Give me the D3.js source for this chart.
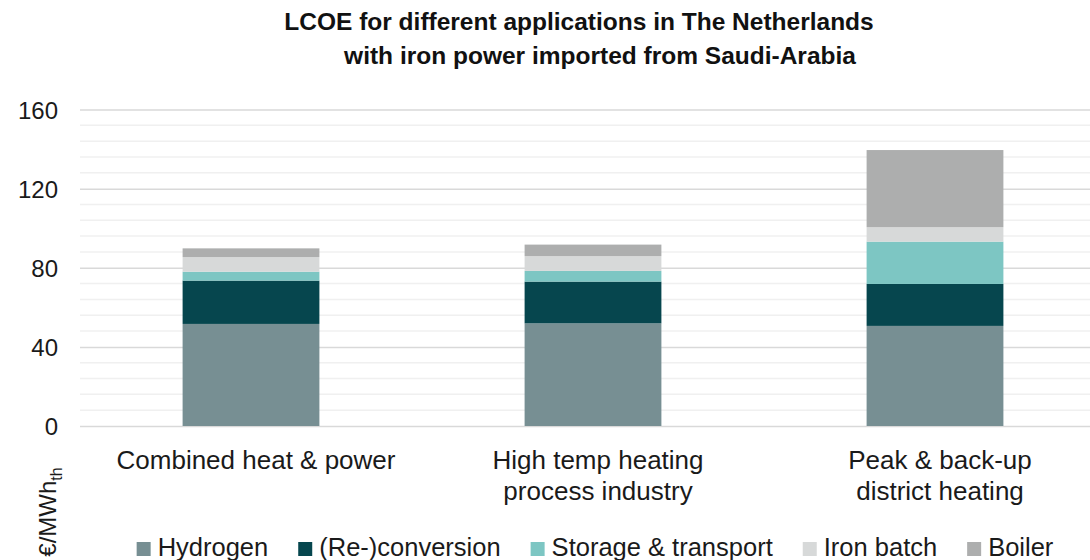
<!DOCTYPE html>
<html>
<head>
<meta charset="utf-8">
<script src="https://cdn.jsdelivr.net/npm/d3@7"></script>
<style>
  html, body { margin: 0; padding: 0; background: #fff; }
  svg { display: block; font-family: "Liberation Sans", Arial, sans-serif; }
</style>
</head>
<body>
<div id="chart"></div>
<script>
// chart data
const categories = [
  ["Combined heat & power"],
  ["High temp heating", "process industry"],
  ["Peak & back-up", "district heating"]
];
const seriesNames = ["Hydrogen", "(Re-)conversion", "Storage & transport", "Iron batch", "Boiler"];
const hydrogen = [51.6, 51.9, 50.6];
const reconversion = [21.9, 21.1, 21.2];
const storageTransport = [4.5, 5.4, 21.4];
const ironBatch = [7.4, 7.5, 7.3];
const boiler = [4.4, 5.8, 39.0];
const yTicks = [0, 40, 80, 120, 160];
const titleLines = ["LCOE for different applications in The Netherlands", "with iron power imported from Saudi-Arabia"];
const colors = ["#778f93", "#06464e", "#7dc6c3", "#d7d9d9", "#adaeae"];

const width = 1090, height = 560;
const plot = {left: 80, right: 1106, top: 109.5, bottom: 426};

const svg = d3.select("#chart").append("svg")
  .attr("width", width)
  .attr("height", height);

const catKeys = categories.map(c => c.join(" "));
const allSeries = [hydrogen, reconversion, storageTransport, ironBatch, boiler];
const rows = catKeys.map((key, i) => {
  const row = {category: key};
  seriesNames.forEach((name, s) => row[name] = allSeries[s][i]);
  return row;
});

const x = d3.scaleBand()
  .domain(catKeys)
  .range([plot.left, plot.right])
  .paddingInner(0.6)
  .paddingOuter(0.3);

const y = d3.scaleLinear()
  .domain([0, 160])
  .range([plot.bottom, plot.top]);

const color = d3.scaleOrdinal().domain(seriesNames).range(colors);

// minor gridlines every 8
svg.append("g")
  .selectAll("line")
  .data(d3.range(0, 161, 8).filter(v => v % 40 !== 0))
  .enter().append("line")
  .attr("x1", plot.left).attr("x2", width)
  .attr("y1", d => y(d)).attr("y2", d => y(d))
  .attr("stroke", "#f0f0f0")
  .attr("stroke-width", 1.5);

// major gridlines + tick labels
const yAxis = svg.append("g")
  .attr("transform", `translate(${plot.left},0)`)
  .call(d3.axisLeft(y).tickValues(yTicks).tickSize(-(width - plot.left)).tickPadding(22));
yAxis.select(".domain").remove();
yAxis.selectAll(".tick line").attr("stroke", "#d9d9d9").attr("stroke-width", 1.5);
yAxis.selectAll(".tick text")
  .attr("fill", "#1a1a1a")
  .style("font-size", "24px")
  .attr("dy", "0.36em");

// stacked bars
const stacked = d3.stack().keys(seriesNames)(rows);
svg.append("g")
  .selectAll("g")
  .data(stacked)
  .enter().append("g")
  .attr("fill", d => color(d.key))
  .selectAll("rect")
  .data(d => d)
  .enter().append("rect")
  .attr("x", d => x(d.data.category))
  .attr("width", x.bandwidth())
  .attr("y", d => y(d[1]))
  .attr("height", d => y(d[0]) - y(d[1]));

// category labels (sit a little right of the bar centre, as in the original)
const catLabels = svg.append("g")
  .selectAll("text")
  .data(categories)
  .enter().append("text")
  .attr("text-anchor", "middle")
  .attr("fill", "#1a1a1a")
  .style("font-size", "26px")
  .attr("transform", (d, i) => `translate(${x(catKeys[i]) + x.bandwidth() / 2 + 5},469)`);
catLabels.selectAll("tspan")
  .data(d => d)
  .enter().append("tspan")
  .attr("x", 0)
  .attr("y", (d, i) => i * 31)
  .text(d => d);

// title
svg.append("g")
  .selectAll("text")
  .data(titleLines)
  .enter().append("text")
  .attr("x", (d, i) => i === 0 ? 579 : 600)
  .attr("y", (d, i) => 30 + i * 34)
  .attr("text-anchor", "middle")
  .attr("fill", "#111")
  .style("font-size", "24.5px")
  .style("font-weight", "bold")
  .text(d => d);

// y-axis label
const yLabel = svg.append("text")
  .attr("transform", "translate(56,512) rotate(-90)")
  .attr("text-anchor", "middle")
  .attr("fill", "#1a1a1a")
  .style("font-size", "24px");
yLabel.append("tspan").text("€/MWh");
yLabel.append("tspan").attr("dy", 6).style("font-size", "16px").text("th");

// legend
const legend = svg.append("g").attr("class", "legend");
let cursor = 0;
seriesNames.forEach(name => {
  const item = legend.append("g").attr("transform", `translate(${cursor},0)`);
  item.append("rect")
    .attr("x", 0).attr("y", -14)
    .attr("width", 14).attr("height", 14)
    .attr("fill", color(name));
  const label = item.append("text")
    .attr("x", 21)
    .attr("y", 0)
    .attr("fill", "#1a1a1a")
    .style("font-size", "25.5px")
    .text(name);
  cursor += 21 + label.node().getComputedTextLength() + 30;
});
const legendWidth = cursor - 30;
legend.attr("transform", `translate(${(137 + 1053) / 2 - legendWidth / 2},556)`);
</script>
</body>
</html>
